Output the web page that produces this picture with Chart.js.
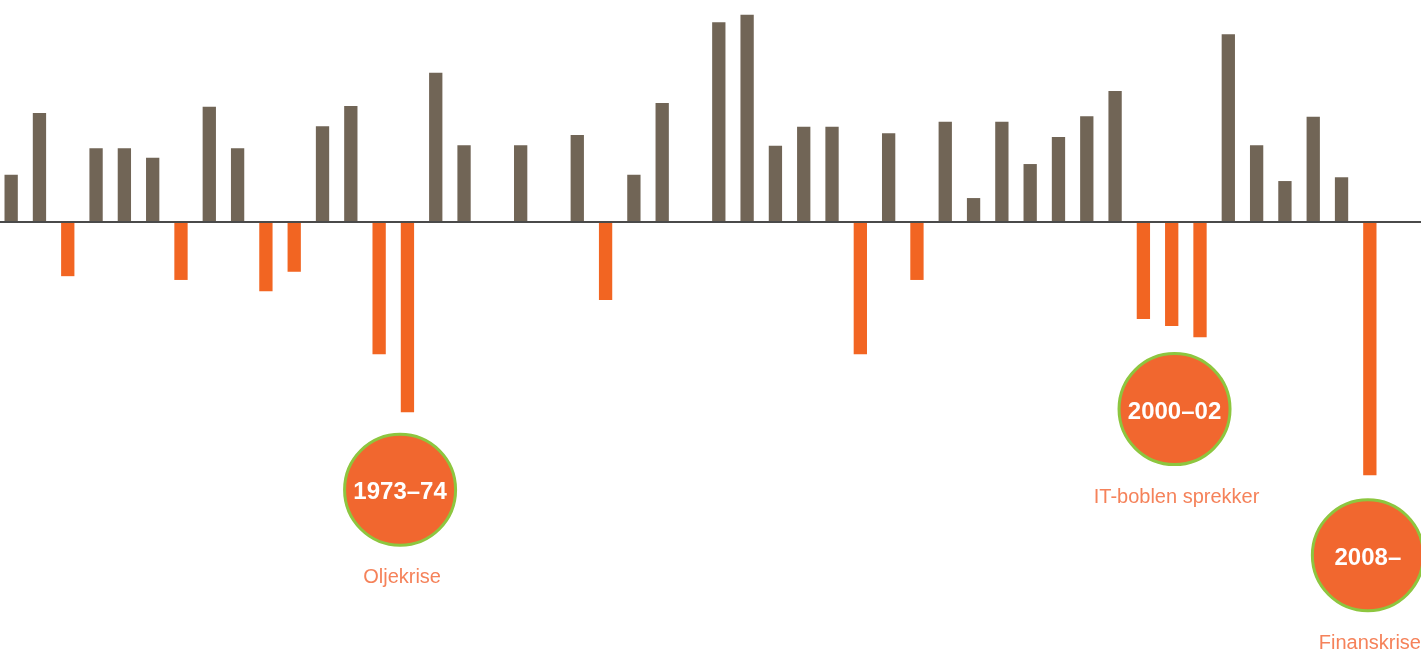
<!DOCTYPE html>
<html>
<head>
<meta charset="utf-8">
<script src="https://cdn.jsdelivr.net/npm/chart.js@4/dist/chart.umd.min.js"></script>
<style>
  html, body { margin: 0; padding: 0; background: #fff; overflow: hidden; }
  #wrap { position: absolute; left: -3px; top: 0; width: 1424px; height: 651px; }
</style>
</head>
<body>
<div id="wrap"><canvas id="returns"></canvas></div>
<script>
'use strict';

// yearly returns, 1960 - 2008 (percent)
var years = [];
for (var y = 1960; y <= 2008; y++) years.push(String(y));

var returns = [
   7.5, 17.3, -8.6, 11.7, 11.7, 10.2, -9.2, 18.3, 11.7, -11.0,
  -7.9, 15.2, 18.4, -21.0, -30.2, 23.7, 12.2,  0.0, 12.2,  0.0,
  13.8, -12.4, 7.5, 18.9,  0.0, 31.7, 32.9, 12.1, 15.1, 15.1,
 -21.0, 14.1, -9.2, 15.9,  3.8, 15.9,  9.2, 13.5, 16.8, 20.8,
 -15.4, -16.5, -18.3, 29.8, 12.2,  6.5, 16.7,  7.1, -40.2
];

// crisis markers: text in the circle, caption under it, anchor (category index, value)
var crisisText = ['1973\u201374', '2000\u201302', '2008\u2013'];
var crisisCaption = ['Oljekrise', 'IT-boblen sprekker', 'Finanskrise'];
var crisisIndex = [13.74, 41.1, 47.93];
var crisisValue = [-42.5, -29.7, -52.9];

var BROWN = '#716556';
var ORANGE = '#f26522';

var crisisPlugin = {
    id: 'crisis',
    afterDatasetsDraw: function(chart) {
        var ctx = chart.ctx;
        var xs = chart.scales.x, ys = chart.scales.y;

        // zero line across the whole width
        var y0 = ys.getPixelForValue(0);
        ctx.save();
        ctx.strokeStyle = '#4a4a4a';
        ctx.lineWidth = 2;
        ctx.beginPath();
        ctx.moveTo(0, y0);
        ctx.lineTo(chart.width, y0);
        ctx.stroke();

        for (var i = 0; i < crisisText.length; i++) {
            var cx = xs.getPixelForValue(crisisIndex[i]);
            var cy = ys.getPixelForValue(crisisValue[i]);
            ctx.beginPath();
            ctx.arc(cx, cy, 55.5, 0, Math.PI * 2);
            ctx.fillStyle = '#f1672f';
            ctx.fill();
            ctx.lineWidth = 3;
            ctx.strokeStyle = '#8dc63f';
            ctx.stroke();

            ctx.fillStyle = '#ffffff';
            ctx.font = 'bold 24px "Liberation Sans", Arial, sans-serif';
            ctx.textAlign = 'center';
            ctx.textBaseline = 'middle';
            ctx.fillText(crisisText[i], cx, cy + 3);

            ctx.fillStyle = '#f5825a';
            ctx.font = '20px "Liberation Sans", Arial, sans-serif';
            ctx.fillText(crisisCaption[i], cx + 2, cy + 88);
        }
        ctx.restore();
    }
};

var canvas = document.getElementById('returns');
if (canvas !== null) {
    new Chart(canvas.getContext('2d'), {
        type: 'bar',
        data: {
            labels: years,
            datasets: [{
                data: returns,
                backgroundColor: function(c) {
                    var v = c.raw;
                    return v < 0 ? ORANGE : BROWN;
                },
                borderWidth: 0,
                barPercentage: 0.47,
                categoryPercentage: 1.0
            }]
        },
        options: {
            responsive: true,
            maintainAspectRatio: false,
            animation: false,
            layout: { padding: { left: 0, right: 37, top: 0, bottom: 0 } },
            plugins: {
                legend: { display: false },
                tooltip: { enabled: false },
                title: { display: false }
            },
            scales: {
                x: { display: false, offset: true },
                y: { display: false, min: -68.1, max: 35.24 }
            }
        },
        plugins: [crisisPlugin]
    });
}
</script>
</body>
</html>
